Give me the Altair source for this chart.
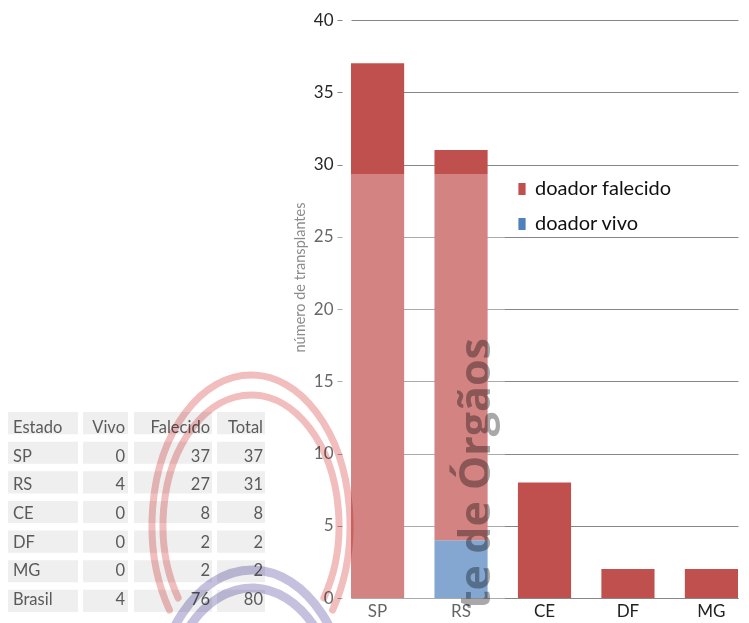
import altair as alt
import pandas as pd
import math

# ---------------- data ----------------
estados = ["SP", "RS", "CE", "DF", "MG"]
vivo = [0, 4, 0, 0, 0]
falecido = [37, 27, 8, 2, 2]

series_names = ["doador falecido", "doador vivo"]
series_colors = ["#C0504D", "#4F81BD"]

y_ticks = [0, 5, 10, 15, 20, 25, 30, 35, 40]

table_header = ["Estado", "Vivo", "Falecido", "Total"]
table_estados = ["SP", "RS", "CE", "DF", "MG", "Brasil"]
table_vivo = [0, 4, 0, 0, 0, 4]
table_falecido = [37, 27, 8, 2, 2, 76]
table_total = [37, 31, 8, 2, 2, 80]

# ---------------- layout helpers ----------------
PX, PY = 342, 20          # absolute position of plot origin in the page
W, H = 399, 578


def ax(x):
    return x - PX


def ay(y):
    return y - PY


bars_df = pd.DataFrame(
    [{"estado": e, "serie": "doador vivo", "valor": v, "ord": 0} for e, v in zip(estados, vivo)]
    + [{"estado": e, "serie": "doador falecido", "valor": f, "ord": 1} for e, f in zip(estados, falecido)]
)

rows = [table_header[0]] + table_estados
table_df = pd.DataFrame({
    "row": rows,
    "c0": rows,
    "c1": [table_header[1]] + [str(v) for v in table_vivo],
    "c2": [table_header[2]] + [str(v) for v in table_falecido],
    "c3": [table_header[3]] + [str(v) for v in table_total],
})

one = pd.DataFrame({"k": [0]})

legend_shape = "M-0.3,-0.5L0.3,-0.5L0.3,0.5L-0.3,0.5Z"

bars = alt.Chart(bars_df).mark_bar().encode(
    x=alt.X("estado:N", sort=estados,
            scale=alt.Scale(range=[9, 396], paddingInner=0.363, paddingOuter=0),
            axis=alt.Axis(title=None, labelAngle=0, ticks=False, domain=True,
                          domainColor="#868686", labelFontSize=17, labelColor="#222222",
                          labelPadding=5, zindex=0)),
    y=alt.Y("valor:Q", stack="zero",
            scale=alt.Scale(domain=[0, 40], nice=False),
            axis=alt.Axis(values=y_ticks, title="número de transplantes", domain=False,
                          grid=True, gridColor="#868686", gridWidth=1,
                          tickSize=5, tickColor="#868686", labelFontSize=17,
                          labelColor="#262626", labelPadding=4,
                          titleFontSize=14.5, titleColor="#595959", titleFontWeight="normal",
                          titleAngle=270, titleX=-42, titleY=257, titleAlign="center",
                          titleBaseline="middle", zindex=0)),
    color=alt.Color("serie:N", scale=alt.Scale(domain=series_names, range=series_colors),
                    legend=alt.Legend(orient="none", legendX=168, legendY=157, title=None,
                                      labelFontSize=20, labelColor="#111111",
                                      symbolType=legend_shape, symbolSize=576,
                                      symbolStrokeWidth=0, symbolOpacity=1,
                                      rowPadding=13, labelOffset=1, padding=0)),
    order=alt.Order("ord:Q", sort="ascending"),
)

overlay = alt.Chart(one).mark_rect(color="white", opacity=0.3).encode(
    x=alt.value(ax(0) - 10), x2=alt.value(ax(505)),
    y=alt.value(ay(174)), y2=alt.value(ay(640)),
)

row_scale = alt.Scale(domain=rows, range=[ay(412), ay(612)], paddingInner=0.25, paddingOuter=0)

col_boxes = [(8, 78), (83, 128), (134, 212), (217, 265)]
col_text = [(13, "left"), (125, "right"), (210, "right"), (263, "right")]

table_layers = []
for i, (x0, x1) in enumerate(col_boxes):
    table_layers.append(
        alt.Chart(table_df).mark_rect(color="#efefef").encode(
            y=alt.Y("row:N", scale=row_scale, axis=None),
            x=alt.value(ax(x0)), x2=alt.value(ax(x1)),
        )
    )
for i, (tx, al) in enumerate(col_text):
    table_layers.append(
        alt.Chart(table_df).mark_text(align=al, baseline="middle", fontSize=16.5,
                                      color="#5a5a5a", dy=2).encode(
            y=alt.Y("row:N", scale=row_scale, axis=None),
            x=alt.value(ax(tx)),
            text=alt.Text(f"c{i}:N"),
        )
    )


def arc(cx, cy, rx, ry, end_dy, color, sw):
    # elliptic arc, normalised to ry = 1
    nx = rx / ry
    ny = end_dy / ry
    ex = nx * math.sqrt(max(0.0, 1 - ny * ny))
    path = f"M{-ex:.4f},{ny:.4f}A{nx:.4f},1,0,1,1,{ex:.4f},{ny:.4f}"
    return alt.Chart(one).mark_point(
        shape=path, filled=False, stroke=color, strokeWidth=sw, opacity=1,
        strokeCap="round", size=4 * ry * ry, blend="multiply",
    ).encode(x=alt.value(ax(cx)), y=alt.value(ay(cy)))


arcs = [
    arc(251, 525, 99, 150, 85, "#F2BDBD", 7),
    arc(251, 525, 88, 130, 73, "#F2BDBD", 7),
    arc(252, 720, 99, 150, 0, "#C4C0DE", 9),
    arc(252, 718, 88, 130, 0, "#C4C0DE", 9),
]

wm_text = alt.Chart(one).mark_text(
    text="te de Órgãos", angle=270, align="right", baseline="alphabetic",
    font="Open Sans", fontWeight="bold", fontSize=43, color="#a8a8a8", blend="multiply",
).encode(x=alt.value(ax(490)), y=alt.value(ay(338)))

chart = alt.layer(bars, overlay, *table_layers, *arcs, wm_text).resolve_scale(
    y="independent"
).properties(
    width=W, height=H,
    padding={"left": 334, "top": 12, "right": 0, "bottom": 25},
    autosize=alt.AutoSizeParams(type="none"),
).configure(font="Lato").configure_view(stroke=None)

chart.save("out.html", embed_options={"renderer": "svg", "actions": False})
